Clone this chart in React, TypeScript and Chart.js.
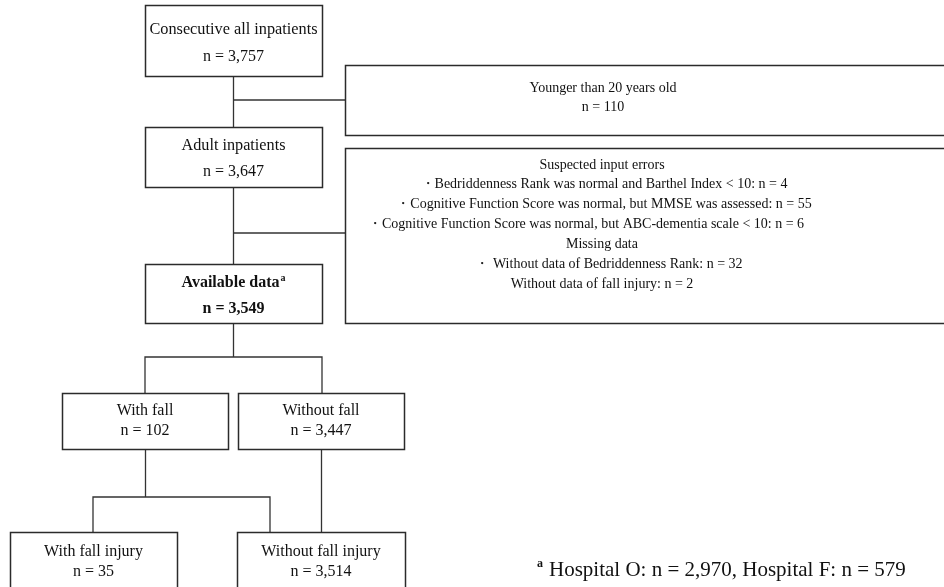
import React, { useEffect, useRef } from "react";
import { Chart, registerables } from "chart.js";

Chart.register(...registerables);

// ---- content (text / numbers) ----
const nodeTitles = [
  "Consecutive all inpatients",
  "Adult inpatients",
  "Available data",
  "With fall",
  "Without fall",
  "With fall injury",
  "Without fall injury",
];
const nodeCounts = ["n = 3,757", "n = 3,647", "n = 3,549", "n = 102", "n = 3,447", "n = 35", "n = 3,514"];
const youngExclusion = ["Younger than 20 years old", "n = 110"];
const errorExclusion = [
  "Suspected input errors",
  "・Bedriddenness Rank was normal and Barthel Index < 10: n = 4",
  "・Cognitive Function Score was normal, but MMSE was assessed: n = 55",
  "・Cognitive Function Score was normal, but ABC-dementia scale < 10: n = 6",
  "Missing data",
  "・ Without data of Bedriddenness Rank: n = 32",
  "Without data of fall injury: n = 2",
];
const footnoteMark = "a";
const footnoteText = "Hospital O: n = 2,970, Hospital F: n = 579";

// ---- layout (data coordinates: x 0..944, y 0..587 top-down) ----
// [left, top, right, bottom, titleY, countY, titleSize, bold]
const nodeLayout: [number, number, number, number, number, number, number, boolean][] = [
  [145, 5, 322, 76, 30, 57, 16.3, false],
  [145, 127, 322, 187, 146, 172, 16.2, false],
  [145, 264, 322, 323, 283, 309, 16, true],
  [62, 393, 228, 449, 411, 431, 16, false],
  [238, 393, 404, 449, 411, 431, 16, false],
  [10, 532, 177, 600, 552, 572, 16, false],
  [237, 532, 405, 600, 552, 572, 16, false],
];
const youngBox = [345, 65, 960, 135];
const youngLineY = [88, 107];
const errorBox = [345, 148, 960, 323];
const errorLineY = [165, 184, 204, 224, 244, 264, 284];
const errorLineX = [602, 604, 604, 586, 602, 609, 602];
const textCenterX = 603;
// connector polylines
const connectors: { x: number; y: number }[][] = [
  [{ x: 233.5, y: 76 }, { x: 233.5, y: 127 }],
  [{ x: 233.5, y: 100 }, { x: 345, y: 100 }],
  [{ x: 233.5, y: 187 }, { x: 233.5, y: 264 }],
  [{ x: 233.5, y: 233 }, { x: 345, y: 233 }],
  [{ x: 233.5, y: 323 }, { x: 233.5, y: 357 }],
  [{ x: 145, y: 393 }, { x: 145, y: 357 }, { x: 322, y: 357 }, { x: 322, y: 393 }],
  [{ x: 145.5, y: 449 }, { x: 145.5, y: 497 }],
  [{ x: 93, y: 532 }, { x: 93, y: 497 }, { x: 270, y: 497 }, { x: 270, y: 532 }],
  [{ x: 321.5, y: 449 }, { x: 321.5, y: 532 }],
];

const SERIF = '"Liberation Serif", "Times New Roman", serif';

const flowPlugin = {
  id: "flow",
  beforeDraw(chart: any) {
    const { ctx, width, height } = chart;
    ctx.save();
    ctx.fillStyle = "#ffffff";
    ctx.fillRect(0, 0, width, height);
    ctx.restore();
  },
  afterDatasetsDraw(chart: any) {
    const { ctx } = chart;
    const xs = chart.scales.x;
    const ys = chart.scales.y;
    const px = (v: number) => xs.getPixelForValue(v);
    const py = (v: number) => ys.getPixelForValue(v);
    const rect = (b: number[]) => {
      const x0 = Math.round(px(b[0])) + 0.5;
      const y0 = Math.round(py(b[1])) + 0.5;
      const x1 = Math.round(px(b[2])) + 0.5;
      const y1 = Math.round(py(b[3])) + 0.5;
      ctx.strokeRect(x0, y0, x1 - x0, y1 - y0);
    };
    ctx.save();
    ctx.strokeStyle = "#2b2b2b";
    ctx.lineWidth = 1.5;
    nodeLayout.forEach((l) => rect(l));
    rect(youngBox);
    rect(errorBox);

    ctx.fillStyle = "#111111";
    ctx.textAlign = "center";
    ctx.textBaseline = "middle";
    nodeLayout.forEach((l, i) => {
      const cx = px((l[0] + l[2]) / 2);
      const weight = l[7] ? "bold " : "";
      ctx.font = `${weight}${l[6]}px ${SERIF}`;
      const title = nodeTitles[i];
      if (l[7]) {
        const tw = ctx.measureText(title).width;
        ctx.font = `bold 10px ${SERIF}`;
        const sw = ctx.measureText(footnoteMark).width + 1;
        const start = cx - (tw + sw) / 2;
        ctx.font = `${weight}${l[6]}px ${SERIF}`;
        ctx.textAlign = "left";
        ctx.fillText(title, start, py(l[4]));
        ctx.font = `bold 10px ${SERIF}`;
        ctx.fillText(footnoteMark, start + tw + 1, py(l[4]) - 5);
        ctx.textAlign = "center";
      } else {
        ctx.fillText(title, cx, py(l[4]));
      }
      ctx.font = `${weight}16px ${SERIF}`;
      ctx.fillText(nodeCounts[i], cx, py(l[5]));
    });

    ctx.font = `14px ${SERIF}`;
    youngExclusion.forEach((t, i) => ctx.fillText(t, px(textCenterX), py(youngLineY[i])));
    errorExclusion.forEach((t, i) => ctx.fillText(t, px(errorLineX[i]), py(errorLineY[i])));

    ctx.textAlign = "left";
    ctx.font = `bold 12px ${SERIF}`;
    ctx.fillText(footnoteMark, px(537), py(564));
    ctx.font = `21px ${SERIF}`;
    ctx.fillText(footnoteText, px(549), py(570));
    ctx.restore();
  },
};

export default function App() {
  const ref = useRef<HTMLCanvasElement | null>(null);
  useEffect(() => {
    document.body.style.margin = "0";
    const canvas = ref.current;
    if (!canvas) return;
    const chart = new Chart(canvas, {
      type: "scatter",
      data: {
        datasets: connectors.map((pts) => ({
          data: pts,
          showLine: true,
          borderColor: "#333333",
          borderWidth: 1.3,
          pointRadius: 0,
          fill: false,
          tension: 0,
        })),
      },
      options: {
        animation: false,
        responsive: false,
        devicePixelRatio: 1,
        layout: { padding: 0 },
        plugins: { legend: { display: false }, tooltip: { enabled: false } },
        events: [],
        scales: {
          x: { type: "linear", min: 0, max: 944, display: false },
          y: { type: "linear", min: 0, max: 587, reverse: true, display: false },
        },
      },
      plugins: [flowPlugin],
    });
    return () => chart.destroy();
  }, []);
  return (
    <div style={{ position: "absolute", left: 0, top: 0, width: 944, height: 587, background: "#fff" }}>
      <canvas ref={ref} width={944} height={587} style={{ display: "block" }} />
    </div>
  );
}
